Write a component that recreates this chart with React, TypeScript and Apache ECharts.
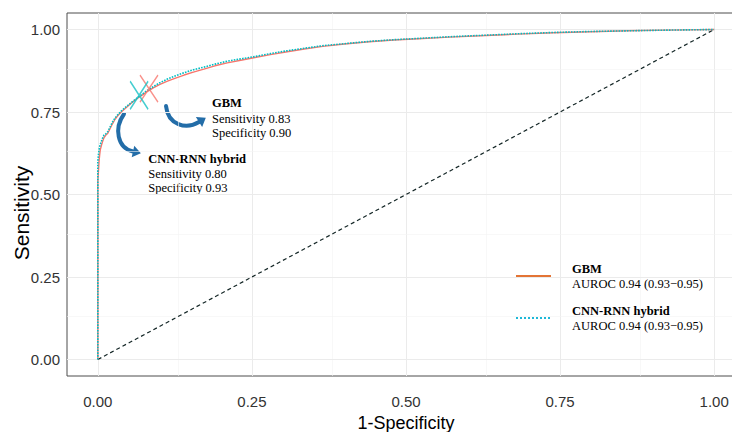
import React, { useEffect, useRef } from 'react';
import * as echarts from 'echarts';

// ROC curve coordinates (false positive rate = 1 - specificity)
const fpr = [0, 0, 0.001, 0.002, 0.003, 0.004, 0.006, 0.008, 0.010, 0.013, 0.016, 0.020, 0.024, 0.028, 0.033, 0.038, 0.044, 0.050, 0.057, 0.064, 0.072, 0.080, 0.090, 0.100, 0.112, 0.125, 0.140, 0.155, 0.172, 0.190, 0.210, 0.232, 0.255, 0.280, 0.305, 0.335, 0.365, 0.400, 0.440, 0.480, 0.520, 0.570, 0.620, 0.680, 0.740, 0.800, 0.860, 0.920, 0.960, 1.0];
const tprGBM = [0, 0.54, 0.57, 0.60, 0.62, 0.635, 0.65, 0.662, 0.672, 0.680, 0.685, 0.700, 0.715, 0.728, 0.740, 0.750, 0.760, 0.770, 0.781, 0.791, 0.801, 0.812, 0.823, 0.833, 0.843, 0.852, 0.862, 0.871, 0.880, 0.890, 0.899, 0.907, 0.915, 0.924, 0.932, 0.941, 0.949, 0.956, 0.963, 0.968, 0.972, 0.977, 0.981, 0.986, 0.990, 0.993, 0.996, 0.998, 0.999, 1.0];
const tprCNN = [0, 0.60, 0.62, 0.635, 0.645, 0.652, 0.662, 0.672, 0.680, 0.684, 0.690, 0.705, 0.720, 0.732, 0.743, 0.753, 0.763, 0.772, 0.783, 0.793, 0.804, 0.815, 0.827, 0.838, 0.849, 0.859, 0.869, 0.878, 0.886, 0.895, 0.904, 0.911, 0.918, 0.927, 0.935, 0.943, 0.951, 0.957, 0.964, 0.969, 0.973, 0.978, 0.982, 0.987, 0.991, 0.994, 0.996, 0.998, 0.999, 1.0];

const xTicks = [0, 0.25, 0.5, 0.75, 1];
const yTicks = [0, 0.25, 0.5, 0.75, 1];
const minorBreaks = [0.125, 0.375, 0.625, 0.875];

const seriesNames = ['GBM', 'CNN-RNN hybrid'];
const aurocTexts = ['AUROC 0.94 (0.93\u22120.95)', 'AUROC 0.94 (0.93\u22120.95)'];

const cutoffGBM = [0.083, 0.821];
const cutoffCNN = [0.067, 0.801];
const annGBM = ['GBM', 'Sensitivity 0.83', 'Specificity 0.90'];
const annCNN = ['CNN-RNN hybrid', 'Sensitivity 0.80', 'Specificity 0.93'];

const SERIF = "'Liberation Serif', 'Times New Roman', serif";
const SANS = "'Liberation Sans', Arial, sans-serif";
const ARROW = '#236DA8';

function arrowHead(x2: number, y2: number, cx: number, cy: number) {
  const dx = x2 - cx, dy = y2 - cy;
  const len = Math.hypot(dx, dy);
  const ux = dx / len, uy = dy / len;
  const px = -uy, py = ux;
  return [
    [x2 + ux * 8, y2 + uy * 8],
    [x2 + px * 6, y2 + py * 6],
    [x2 - px * 6, y2 - py * 6],
  ];
}

export default function App() {
  const ref = useRef<HTMLDivElement>(null);
  useEffect(() => {
    const chart = echarts.init(ref.current!, null, { renderer: 'svg' });
    const majorStyle = { color: '#EBEBEB', width: 1, type: 'solid' };
    const minorStyle = { color: '#F3F3F3', width: 0.6, type: 'solid' };
    const gridLines = [
      ...xTicks.map((v) => ({ xAxis: v, lineStyle: majorStyle })),
      ...minorBreaks.map((v) => ({ xAxis: v, lineStyle: minorStyle })),
      ...yTicks.map((v) => ({ yAxis: v, lineStyle: majorStyle })),
      ...minorBreaks.map((v) => ({ yAxis: v, lineStyle: minorStyle })),
    ];

    const gbmArrow = { x1: 166, y1: 106, cpx1: 168, cpy1: 125, cpx2: 186, cpy2: 130, x2: 199, y2: 122 };
    const cnnArrow = { x1: 124, y1: 114, cpx1: 114, cpy1: 128, cpx2: 117, cpy2: 148, x2: 133, y2: 151.5 };

    const annText = (lines: string[], x: number, ys: number[]) =>
      lines.map((t, i) => ({
        type: 'text',
        x,
        y: ys[i],
        silent: true,
        style: {
          text: t,
          fill: '#000',
          font: `${i === 0 ? 'bold ' : ''}12.5px ${SERIF}`,
          align: 'left',
          verticalAlign: 'middle',
        },
      }));

    const option: any = {
      animation: false,
      backgroundColor: '#fff',
      grid: {
        left: 67,
        right: -13,
        top: 13,
        bottom: 56,
        show: true,
        borderColor: '#4D4D4D',
        borderWidth: 1,
        backgroundColor: '#fff',
        containLabel: false,
        outerBoundsMode: 'none',
      },
      xAxis: {
        type: 'value',
        min: -0.05,
        max: 1.05,
        name: '1-Specificity',
        nameLocation: 'middle',
        nameGap: 37,
        nameTextStyle: { fontFamily: SANS, fontSize: 18, color: '#000' },
        axisLine: { show: false },
        splitLine: { show: false },
        axisTick: { show: true, customValues: xTicks, length: 5, lineStyle: { color: '#333', width: 1 } },
        axisLabel: {
          customValues: xTicks,
          formatter: (v: number) => v.toFixed(2),
          fontFamily: SANS,
          fontSize: 15,
          color: '#333',
          margin: 18,
        },
      },
      yAxis: {
        type: 'value',
        min: -0.05,
        max: 1.05,
        axisLine: { show: false },
        splitLine: { show: false },
        axisTick: { show: true, customValues: yTicks, length: 5, lineStyle: { color: '#333', width: 1 } },
        axisLabel: {
          customValues: yTicks,
          formatter: (v: number) => v.toFixed(2),
          fontFamily: SANS,
          fontSize: 15,
          color: '#333',
          margin: 7,
        },
      },
      legend: {
        orient: 'vertical',
        left: 515,
        top: 262,
        padding: 0,
        itemWidth: 35,
        itemHeight: 12,
        itemGap: 14,
        selectedMode: false,
        data: [
          { name: seriesNames[0], itemStyle: { opacity: 0 }, lineStyle: { color: '#E37435', width: 2, type: 'solid' } },
          { name: seriesNames[1], itemStyle: { opacity: 0 }, lineStyle: { color: '#1DB8D8', width: 2, type: 'dotted' } },
        ],
        formatter: (name: string) => `{t|${name}}\n{s|${aurocTexts[seriesNames.indexOf(name)]}}`,
        textStyle: {
          padding: [0, 0, 0, 16],
          rich: {
            t: { fontFamily: SERIF, fontWeight: 'bold', fontSize: 12.5, lineHeight: 15, color: '#000' },
            s: { fontFamily: SERIF, fontSize: 12.5, lineHeight: 15, color: '#000' },
          },
        },
      },
      series: [
        {
          name: 'gridlines',
          type: 'line',
          data: [[0, 0]],
          symbol: 'none',
          silent: true,
          z: 1,
          lineStyle: { opacity: 0 },
          markLine: {
            silent: true,
            z: 1,
            symbol: ['none', 'none'],
            label: { show: false },
            emphasis: { disabled: true },
            data: gridLines,
          },
        },
        {
          name: 'chance',
          type: 'line',
          data: [[0, 0], [1, 1]],
          symbol: 'none',
          silent: true,
          z: 3,
          lineStyle: { color: '#142626', width: 1.2, type: [4, 3] },
        },
        {
          name: seriesNames[0],
          type: 'line',
          data: fpr.map((x, i) => [x, tprGBM[i]]),
          symbol: 'none',
          showSymbol: false,
          silent: true,
          z: 4,
          lineStyle: { color: '#F8766D', width: 1.4, type: 'solid' },
          itemStyle: { color: '#F8766D' },
        },
        {
          name: seriesNames[1],
          type: 'line',
          data: fpr.map((x, i) => [x, tprCNN[i]]),
          symbol: 'none',
          showSymbol: false,
          silent: true,
          z: 5,
          lineStyle: { color: '#00BFC4', width: 1.6, type: [1.6, 1.2] },
          itemStyle: { color: '#00BFC4' },
        },
        {
          name: 'cutoff GBM',
          type: 'scatter',
          data: [cutoffGBM],
          symbol: 'path://M0,0L18,27M18,0L0,27',
          symbolSize: [18, 27],
          silent: true,
          z: 6,
          itemStyle: { color: 'rgba(0,0,0,0)', borderColor: '#F8766D', borderWidth: 1.6 },
        },
        {
          name: 'cutoff CNN',
          type: 'scatter',
          data: [cutoffCNN],
          symbol: 'path://M0,0L18,27M18,0L0,27',
          symbolSize: [18, 28],
          silent: true,
          z: 7,
          itemStyle: { color: 'rgba(0,0,0,0)', borderColor: '#16C0C4', borderWidth: 1.6 },
        },
      ],
      graphic: [
        {
          type: 'text',
          x: 21,
          y: 213,
          rotation: Math.PI / 2,
          silent: true,
          style: { text: 'Sensitivity', font: `21px ${SANS}`, fill: '#000', align: 'center', verticalAlign: 'middle' },
        },
        ...annText(annGBM, 212, [103.3, 119, 133.3]),
        ...annText(annCNN, 148.3, [159.3, 174.3, 188.3]),
        {
          type: 'bezierCurve',
          silent: true,
          shape: gbmArrow,
          style: { stroke: ARROW, lineWidth: 4, fill: null, lineCap: 'round' },
        },
        {
          type: 'polygon',
          silent: true,
          shape: { points: arrowHead(gbmArrow.x2, gbmArrow.y2, gbmArrow.cpx2, gbmArrow.cpy2) },
          style: { fill: ARROW },
        },
        {
          type: 'bezierCurve',
          silent: true,
          shape: cnnArrow,
          style: { stroke: ARROW, lineWidth: 4, fill: null, lineCap: 'round' },
        },
        {
          type: 'polygon',
          silent: true,
          shape: { points: arrowHead(cnnArrow.x2, cnnArrow.y2, cnnArrow.cpx2, cnnArrow.cpy2) },
          style: { fill: ARROW },
        },
      ],
    };
    chart.setOption(option);
    return () => chart.dispose();
  }, []);
  return <div ref={ref} style={{ position: 'fixed', left: 0, top: 0, width: 732, height: 432 }} />;
}
